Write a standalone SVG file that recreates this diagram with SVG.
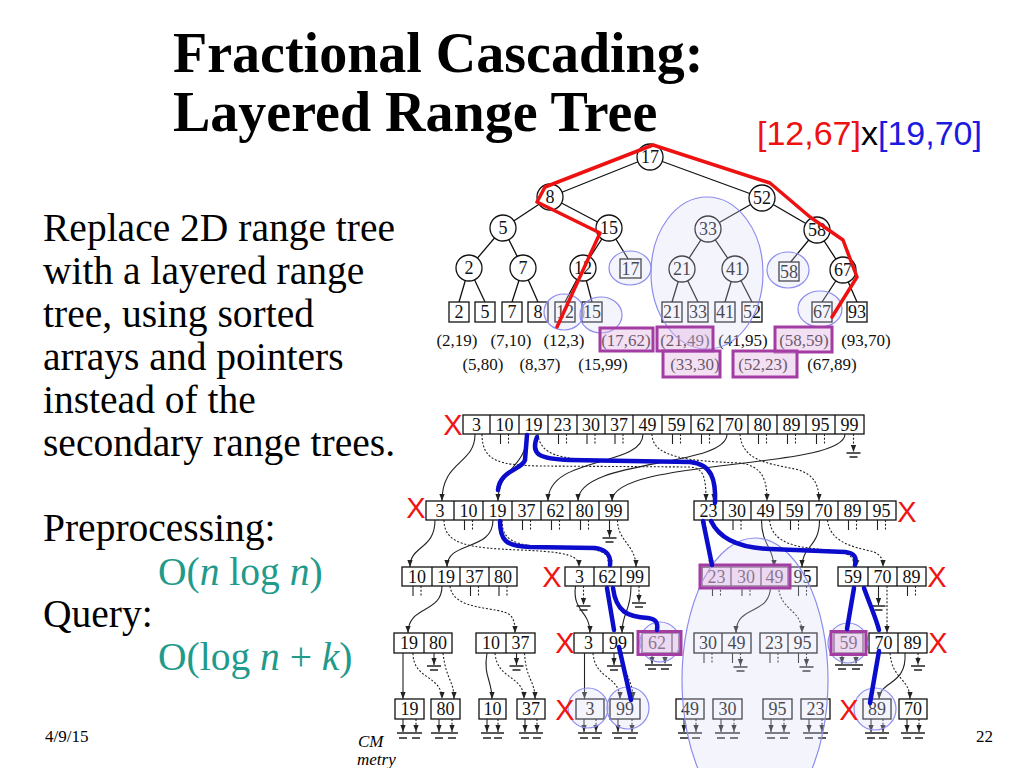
<svg xmlns="http://www.w3.org/2000/svg" width="1024" height="768" viewBox="0 0 1024 768">
<defs>
<style>
.ttl{font-family:"Liberation Serif","Times New Roman",serif;font-weight:bold;font-size:56px;fill:#000}
.bd{font-family:"Liberation Serif","Times New Roman",serif;font-size:39.5px;fill:#000}
.tl{fill:#1f9a8b}
.ft{font-family:"Liberation Serif","Times New Roman",serif;font-size:17px;fill:#000}
.c{fill:#fff;stroke:#111;stroke-width:1.3}
.t{font-family:"Liberation Serif","Times New Roman",serif;font-size:17px;fill:#111;text-anchor:middle}
.n{font-size:18px}
.e{stroke:#111;stroke-width:1.3;fill:none}
.s{stroke:#222;stroke-width:1.1;fill:none;marker-end:url(#ah)}
.d{stroke:#222;stroke-width:1.1;fill:none;stroke-dasharray:2 1.8;marker-end:url(#ah)}
.k{stroke:#222;stroke-width:1.1;fill:none}
.kd{stroke:#222;stroke-width:1.1;fill:none;stroke-dasharray:2 1.8}
.gr{stroke:#222;stroke-width:1.6;fill:none}
.b{stroke:#0c0ccc;stroke-width:4.5;fill:none;stroke-linecap:round;stroke-linejoin:round}
.r{stroke:#ee1111;stroke-width:3.5;fill:none;stroke-linejoin:round;stroke-linecap:round}
.x{font-family:"Liberation Sans",Arial,sans-serif;font-size:29px;fill:#f01414;text-anchor:middle}
.el{fill:#d6d6f8;fill-opacity:.28;stroke:#8c8cee;stroke-width:1.2}
.pb{fill:#e2b4e2;fill-opacity:.42;stroke:#a33ca3;stroke-width:3}
</style>
<marker id="ah" viewBox="0 0 8 6" refX="8" refY="3" markerWidth="7" markerHeight="6" markerUnits="userSpaceOnUse" orient="auto"><path d="M0,0L8,3L0,6z" fill="#222"/></marker>
</defs>
<rect width="1024" height="768" fill="#fff"/>

<g id="title">
<text class="ttl" x="173" y="72">Fractional Cascading:</text>
<text class="ttl" x="173" y="131">Layered Range Tree</text>
</g>
<g id="body">
<text class="bd" x="43" y="241">Replace 2D range tree</text>
<text class="bd" x="43" y="284">with a layered range</text>
<text class="bd" x="43" y="327">tree, using sorted</text>
<text class="bd" x="43" y="370">arrays and pointers</text>
<text class="bd" x="43" y="413">instead of the</text>
<text class="bd" x="43" y="456">secondary range trees.</text>
<text class="bd" x="43" y="541">Preprocessing:</text>
<text class="bd tl" x="158" y="585">O(<tspan font-style="italic">n</tspan> log <tspan font-style="italic">n</tspan>)</text>
<text class="bd" x="43" y="627">Query:</text>
<text class="bd tl" x="158" y="670">O(log <tspan font-style="italic">n</tspan> + <tspan font-style="italic">k</tspan>)</text>
</g>
<text id="range" x="757" y="145" font-family="Liberation Sans, Arial, sans-serif" font-size="34"><tspan fill="#ee1111">[12,67]</tspan><tspan fill="#000">x</tspan><tspan fill="#1a1ae0">[19,70]</tspan></text>
<g id="footer">
<text class="ft" x="45" y="742">4/9/15</text>
<text class="ft" x="993" y="742" text-anchor="end">22</text>
<text class="ft" x="358" y="747" font-style="italic">CM</text>
<text class="ft" x="357" y="765" font-style="italic" font-size="14">metry</text>
</g>

<!-- top tree -->
<g id="tree-edges">
<path class="e" d="M650,157L550,197M650,157L762,198M550,197L503,228M550,197L609,228M503,228L469,268M503,228L523,268M609,228L583,268M609,228L630,262M762,198L708,229M762,198L817,230M708,229L682,269M708,229L735,269M817,230L789,264M817,230L843,270M469,268L459,302M469,268L485,302M523,268L512,302M523,268L538,302M583,268L565,302M583,268L592,302M682,269L672,302M682,269L698,302M735,269L725,302M735,269L752,302M843,270L822,302M843,270L857,302"/>
</g>
<g id="n17"><circle class="c" cx="650" cy="157" r="13"/><text class="t n" x="650" y="163">17</text></g>
<g id="n8"><circle class="c" cx="550" cy="197" r="13"/><text class="t n" x="550" y="203">8</text></g>
<g id="n52"><circle class="c" cx="762" cy="198" r="13"/><text class="t n" x="762" y="204">52</text></g>
<g id="n5"><circle class="c" cx="503" cy="228" r="13"/><text class="t n" x="503" y="234">5</text></g>
<g id="n15"><circle class="c" cx="609" cy="228" r="13"/><text class="t n" x="609" y="234">15</text></g>
<g id="n33"><circle class="c" cx="708" cy="229" r="13"/><text class="t n" x="708" y="235">33</text></g>
<g id="n58"><circle class="c" cx="817" cy="230" r="13"/><text class="t n" x="817" y="236">58</text></g>
<g id="n2"><circle class="c" cx="469" cy="268" r="13"/><text class="t n" x="469" y="274">2</text></g>
<g id="n7"><circle class="c" cx="523" cy="268" r="13"/><text class="t n" x="523" y="274">7</text></g>
<g id="n12"><circle class="c" cx="583" cy="268" r="13"/><text class="t n" x="583" y="274">12</text></g>
<g id="n21"><circle class="c" cx="682" cy="269" r="13"/><text class="t n" x="682" y="275">21</text></g>
<g id="n41"><circle class="c" cx="735" cy="269" r="13"/><text class="t n" x="735" y="275">41</text></g>
<g id="n67"><circle class="c" cx="843" cy="270" r="13"/><text class="t n" x="843" y="276">67</text></g>
<g id="sq17"><rect class="c" x="620" y="259" width="21" height="19"/><text class="t n" x="630.5" y="274.5">17</text></g>
<g id="sq58"><rect class="c" x="779" y="262" width="20" height="19"/><text class="t n" x="789" y="277.5">58</text></g>
<g id="leaves">
<rect class="c" x="449" y="302" width="20" height="20"/><text class="t n" x="459" y="318">2</text>
<rect class="c" x="475" y="302" width="20" height="20"/><text class="t n" x="485" y="318">5</text>
<rect class="c" x="502" y="302" width="20" height="20"/><text class="t n" x="512" y="318">7</text>
<rect class="c" x="528" y="302" width="20" height="20"/><text class="t n" x="538" y="318">8</text>
<rect class="c" x="555" y="302" width="20" height="20"/><text class="t n" x="565" y="318">12</text>
<rect class="c" x="582" y="302" width="20" height="20"/><text class="t n" x="592" y="318">15</text>
<rect class="c" x="662" y="302" width="20" height="20"/><text class="t n" x="672" y="318">21</text>
<rect class="c" x="688" y="302" width="20" height="20"/><text class="t n" x="698" y="318">33</text>
<rect class="c" x="715" y="302" width="20" height="20"/><text class="t n" x="725" y="318">41</text>
<rect class="c" x="742" y="302" width="20" height="20"/><text class="t n" x="752" y="318">52</text>
<rect class="c" x="812" y="302" width="20" height="20"/><text class="t n" x="822" y="318">67</text>
<rect class="c" x="847" y="302" width="20" height="20"/><text class="t n" x="857" y="318">93</text>
</g>
<g id="points">
<text class="t" x="457" y="346">(2,19)</text>
<text class="t" x="511" y="346">(7,10)</text>
<text class="t" x="564" y="346">(12,3)</text>
<text class="t" x="626" y="346">(17,62)</text>
<text class="t" x="685" y="346">(21,49)</text>
<text class="t" x="743" y="346">(41,95)</text>
<text class="t" x="804" y="346">(58,59)</text>
<text class="t" x="866" y="346">(93,70)</text>
<text class="t" x="483" y="370">(5,80)</text>
<text class="t" x="540" y="370">(8,37)</text>
<text class="t" x="603" y="370">(15,99)</text>
<text class="t" x="695" y="370">(33,30)</text>
<text class="t" x="763" y="370">(52,23)</text>
<text class="t" x="832" y="370">(67,89)</text>
</g>
<g id="top-highlights">
<ellipse class="el" cx="707" cy="273" rx="56" ry="76"/>
<ellipse class="el" cx="630" cy="268" rx="21" ry="17"/>
<ellipse class="el" cx="788" cy="270" rx="21" ry="18"/>
<ellipse class="el" cx="820" cy="309" rx="22" ry="18"/>
<ellipse class="el" cx="564" cy="312" rx="20" ry="18"/>
<ellipse class="el" cx="601" cy="315" rx="21" ry="18"/>
<rect class="pb" x="600" y="328" width="53" height="23"/>
<rect class="pb" x="657" y="327" width="56" height="24"/>
<rect class="pb" x="775" y="327" width="57" height="25"/>
<rect class="pb" x="663" y="351" width="57" height="26"/>
<rect class="pb" x="733" y="351" width="64" height="26"/>
<path class="r" d="M832,317L857,277L843,240L810,217L770,183L653,145L545,187L537,202L600,233L557,327"/>
</g>

<!-- arrays -->
<g id="a-root">
<rect class="c" x="463" y="415" width="401" height="19"/>
<path class="e" d="M490,415v19M519,415v19M548,415v19M577,415v19M605,415v19M633,415v19M662,415v19M691,415v19M720,415v19M748,415v19M777,415v19M806,415v19M835,415v19"/>
<text class="t n" x="476.5" y="430.5">3</text><text class="t n" x="504.5" y="430.5">10</text><text class="t n" x="533.5" y="430.5">19</text><text class="t n" x="562.5" y="430.5">23</text><text class="t n" x="591" y="430.5">30</text><text class="t n" x="619" y="430.5">37</text><text class="t n" x="647.5" y="430.5">49</text><text class="t n" x="676.5" y="430.5">59</text><text class="t n" x="705.5" y="430.5">62</text><text class="t n" x="734" y="430.5">70</text><text class="t n" x="762.5" y="430.5">80</text><text class="t n" x="791.5" y="430.5">89</text><text class="t n" x="820.5" y="430.5">95</text><text class="t n" x="849.5" y="430.5">99</text>
</g>
<g id="a-8">
<rect class="c" x="426" y="501" width="202" height="19"/>
<path class="e" d="M454,501v19M483,501v19M512,501v19M541,501v19M570,501v19M599,501v19"/>
<text class="t n" x="440" y="516.5">3</text><text class="t n" x="468.5" y="516.5">10</text><text class="t n" x="497.5" y="516.5">19</text><text class="t n" x="526.5" y="516.5">37</text><text class="t n" x="555.5" y="516.5">62</text><text class="t n" x="584.5" y="516.5">80</text><text class="t n" x="613.5" y="516.5">99</text>
</g>
<g id="a-52">
<rect class="c" x="694" y="501" width="202" height="19"/>
<path class="e" d="M723,501v19M751,501v19M780,501v19M809,501v19M838,501v19M867,501v19"/>
<text class="t n" x="708.5" y="516.5">23</text><text class="t n" x="737" y="516.5">30</text><text class="t n" x="765.5" y="516.5">49</text><text class="t n" x="794.5" y="516.5">59</text><text class="t n" x="823.5" y="516.5">70</text><text class="t n" x="852.5" y="516.5">89</text><text class="t n" x="881.5" y="516.5">95</text>
</g>
<g id="a-5">
<rect class="c" x="402" y="567" width="115" height="19"/>
<path class="e" d="M432,567v19M460,567v19M489,567v19"/>
<text class="t n" x="417" y="582.5">10</text><text class="t n" x="446" y="582.5">19</text><text class="t n" x="474.5" y="582.5">37</text><text class="t n" x="503" y="582.5">80</text>
</g>
<g id="a-15">
<rect class="c" x="565" y="567" width="84" height="19"/>
<path class="e" d="M594,567v19M621,567v19"/>
<text class="t n" x="579.5" y="582.5">3</text><text class="t n" x="607.5" y="582.5">62</text><text class="t n" x="635" y="582.5">99</text>
</g>
<g id="a-33">
<rect class="c" x="702" y="567" width="115" height="19"/>
<path class="e" d="M731,567v19M761,567v19M788,567v19"/>
<text class="t n" x="716.5" y="582.5">23</text><text class="t n" x="746" y="582.5">30</text><text class="t n" x="774.5" y="582.5">49</text><text class="t n" x="802.5" y="582.5">95</text>
</g>
<g id="a-58">
<rect class="c" x="838" y="567" width="88" height="19"/>
<path class="e" d="M868,567v19M897,567v19"/>
<text class="t n" x="853" y="582.5">59</text><text class="t n" x="882.5" y="582.5">70</text><text class="t n" x="911.5" y="582.5">89</text>
</g>
<g id="a-2"><rect class="c" x="394" y="633" width="58" height="20"/><path class="e" d="M424,633v20"/><text class="t n" x="409" y="649">19</text><text class="t n" x="438" y="649">80</text></g>
<g id="a-7"><rect class="c" x="476" y="633" width="59" height="20"/><path class="e" d="M506,633v20"/><text class="t n" x="491" y="649">10</text><text class="t n" x="520.5" y="649">37</text></g>
<g id="a-12"><rect class="c" x="574" y="633" width="59" height="20"/><path class="e" d="M603,633v20"/><text class="t n" x="588.5" y="649">3</text><text class="t n" x="618" y="649">99</text></g>
<g id="a-17"><rect class="c" x="642" y="633" width="37" height="20"/><path class="e" d="M672,633v20"/><text class="t n" x="657" y="649">62</text></g>
<g id="a-21"><rect class="c" x="694" y="633" width="57" height="20"/><path class="e" d="M722,633v20"/><text class="t n" x="708" y="649">30</text><text class="t n" x="736.5" y="649">49</text></g>
<g id="a-41"><rect class="c" x="760" y="633" width="57" height="20"/><path class="e" d="M788,633v20"/><text class="t n" x="774" y="649">23</text><text class="t n" x="802.5" y="649">95</text></g>
<g id="a-58l"><rect class="c" x="834" y="633" width="29" height="20"/><text class="t n" x="848.5" y="649">59</text></g>
<g id="a-67"><rect class="c" x="869" y="633" width="58" height="20"/><path class="e" d="M898,633v20"/><text class="t n" x="883.5" y="649">70</text><text class="t n" x="912.5" y="649">89</text></g>
<g id="leaf-arrays">
<rect class="c" x="395" y="699" width="29" height="20"/><text class="t n" x="409.5" y="715">19</text>
<rect class="c" x="431" y="699" width="29" height="20"/><text class="t n" x="445.5" y="715">80</text>
<rect class="c" x="479" y="699" width="27" height="20"/><text class="t n" x="492.5" y="715">10</text>
<rect class="c" x="517" y="699" width="28" height="20"/><text class="t n" x="531" y="715">37</text>
<rect class="c" x="576" y="699" width="28" height="20"/><text class="t n" x="590" y="715">3</text>
<rect class="c" x="610" y="699" width="30" height="20"/><text class="t n" x="625" y="715">99</text>
<rect class="c" x="676" y="699" width="28" height="20"/><text class="t n" x="690" y="715">49</text>
<rect class="c" x="713" y="699" width="29" height="20"/><text class="t n" x="727.5" y="715">30</text>
<rect class="c" x="763" y="699" width="29" height="20"/><text class="t n" x="777.5" y="715">95</text>
<rect class="c" x="801" y="699" width="29" height="20"/><text class="t n" x="815.5" y="715">23</text>
<rect class="c" x="863" y="699" width="28" height="20"/><text class="t n" x="877" y="715">89</text>
<rect class="c" x="899" y="699" width="28" height="20"/><text class="t n" x="913" y="715">70</text>
</g>

<g id="connectors">
<path class="s" d="M475,434C475,465 442,460 442,501"/>
<path class="d" d="M482,434C482,462 500,465 540,466L690,467C704,468 706,478 706,501"/>
<path class="s" d="M527,434C527,468 498,468 498,501"/>
<path class="d" d="M538,434C540,455 560,459 600,460L692,462C710,464 714,478 714,501"/>
<path class="s" d="M643,434C643,468 548,455 548,501"/>
<path class="d" d="M652,434C652,458 690,461 740,463C764,466 767,482 767,501"/>
<path class="s" d="M727,434C727,468 578,458 578,501"/>
<path class="d" d="M740,434C742,460 765,463 795,469C816,474 819,487 819,501"/>
<path class="s" d="M845,434C845,470 612,458 612,501"/>
<line class="d" x1="853.5" y1="434" x2="853.5" y2="452"/>
<path class="k" d="M500.5,434v10M558.5,434v10M587,434v10M615,434v10M672.5,434v10M701.5,434v10M758.5,434v10M787.5,434v10M816.5,434v10"/>
<path class="kd" d="M508.5,434v10M566.5,434v10M595,434v10M623,434v10M680.5,434v10M709.5,434v10M766.5,434v10M795.5,434v10M824.5,434v10"/>
<path class="s" d="M435,520C435,550 410,545 410,567"/>
<path class="d" d="M444,520C444,545 470,548 520,550C570,552 579,556 579,567"/>
<path class="s" d="M493,520C493,552 447,540 447,567"/>
<path class="d" d="M502,520C502,546 520,547 590,549C607,551 610,558 610,567"/>
<line class="s" x1="609.5" y1="520" x2="609.5" y2="537"/>
<path class="d" d="M617.5,520C617.5,541 636,545 636,567"/>
<path class="k" d="M464.5,520v10M522.5,520v10M551.5,520v10M580.5,520v10M733,520v10M790.5,520v10M848.5,520v10M877.5,520v10"/>
<path class="kd" d="M472.5,520v10M530.5,520v10M559.5,520v10M588.5,520v10M741,520v10M798.5,520v10M856.5,520v10M885.5,520v10"/>
<path class="s" d="M704.5,520L712,567"/>
<path class="d" d="M712.5,520C720,540 740,548 770,549L845,552C855,553 857,558 856,567"/>
<path class="s" d="M761.5,520C761.5,545 774,548 774,567"/>
<path class="d" d="M769.5,520C772,545 800,548 830,550C850,552 855,558 855,567"/>
<path class="s" d="M819.5,520C819.5,548 802,545 802,567"/>
<path class="d" d="M827.5,520C830,545 860,548 874,552C882,556 883,560 883,567"/>
<path class="s" d="M442,586C442,614 408,605 408,633"/>
<path class="d" d="M450,586C453,612 500,606 510,615C515,620 515,626 515,633"/>
<path class="s" d="M575.5,586C572,612 590,610 590,633"/>
<line class="d" x1="583.5" y1="586" x2="583.5" y2="605"/>
<path class="s" d="M631,586C631,612 622,612 622,633"/>
<line class="d" x1="639" y1="586" x2="639" y2="602"/>
<path class="s" d="M770.5,586C770.5,616 736,604 736,633"/>
<path class="d" d="M778.5,586C780,612 802,608 802,633"/>
<line class="s" x1="878.5" y1="586" x2="878.5" y2="605"/>
<line class="d" x1="887" y1="586" x2="887" y2="633"/>
<path class="k" d="M413,586v10M470.5,586v10M499,586v10M712.5,586v10M742,586v10M798.5,586v10M907.5,586v10"/>
<path class="kd" d="M421,586v10M478.5,586v10M507,586v10M720.5,586v10M750,586v10M806.5,586v10M915.5,586v10"/>
<line class="s" x1="403" y1="653" x2="403" y2="699"/>
<path class="d" d="M413,653C413,680 442,675 442,699"/>
<line class="s" x1="434" y1="653" x2="434" y2="665"/>
<path class="d" d="M443,653C446,680 454,680 454,699"/>
<path class="s" d="M487,653C483,676 492,680 492,699"/>
<path class="d" d="M495,653C497,680 524,675 524,699"/>
<line class="s" x1="516.5" y1="653" x2="516.5" y2="665"/>
<path class="d" d="M524.5,653C526,680 535,680 535,699"/>
<line class="s" x1="584.5" y1="653" x2="584.5" y2="699"/>
<path class="d" d="M593,653C595,680 620,675 620,699"/>
<line class="s" x1="614" y1="653" x2="614" y2="665"/>
<path class="d" d="M622,653C624,676 633,680 633,699"/>
<line class="s" x1="652" y1="653" x2="652" y2="664"/>
<line class="d" x1="665" y1="653" x2="665" y2="664"/>
<path class="k" d="M704,653v10M732.5,653v10M770,653v10M798.5,653v10"/>
<path class="kd" d="M712,653v10M778,653v10"/>
<line class="d" x1="740.5" y1="653" x2="740.5" y2="666"/>
<line class="d" x1="806.5" y1="653" x2="806.5" y2="666"/>
<line class="s" x1="842" y1="653" x2="842" y2="664"/>
<line class="d" x1="856" y1="653" x2="856" y2="664"/>
<path class="d" d="M890,653C892,680 910,678 910,699"/>
<path class="s" d="M905,653C907,686 880,680 879,699"/>
<line class="d" x1="918" y1="653" x2="918" y2="665"/>
<line class="s" x1="403" y1="719" x2="403" y2="732"/><line class="d" x1="416" y1="719" x2="416" y2="732"/>
<line class="s" x1="439" y1="719" x2="439" y2="732"/><line class="d" x1="452" y1="719" x2="452" y2="732"/>
<line class="s" x1="487" y1="719" x2="487" y2="732"/><line class="d" x1="498" y1="719" x2="498" y2="732"/>
<line class="s" x1="525" y1="719" x2="525" y2="732"/><line class="d" x1="537" y1="719" x2="537" y2="732"/>
<line class="s" x1="584" y1="719" x2="584" y2="732"/><line class="d" x1="596" y1="719" x2="596" y2="732"/>
<line class="s" x1="618" y1="719" x2="618" y2="732"/><line class="d" x1="632" y1="719" x2="632" y2="732"/>
<line class="s" x1="684" y1="719" x2="684" y2="732"/><line class="d" x1="696" y1="719" x2="696" y2="732"/>
<line class="s" x1="721" y1="719" x2="721" y2="732"/><line class="d" x1="734" y1="719" x2="734" y2="732"/>
<line class="s" x1="771" y1="719" x2="771" y2="732"/><line class="d" x1="784" y1="719" x2="784" y2="732"/>
<line class="s" x1="809" y1="719" x2="809" y2="732"/><line class="d" x1="822" y1="719" x2="822" y2="732"/>
<line class="s" x1="871" y1="719" x2="871" y2="732"/><line class="d" x1="883" y1="719" x2="883" y2="732"/>
<line class="s" x1="907" y1="719" x2="907" y2="732"/><line class="d" x1="919" y1="719" x2="919" y2="732"/>
<path class="gr" d="M846.5,453H860.5M849.5,457H857.5M602.5,538H616.5M605.5,542H613.5M576.5,606H590.5M579.5,610H587.5M632,603H646M635,607H643M871.5,606H885.5M874.5,610H882.5M427,666H441M430,670H438M509.5,666H523.5M512.5,670H520.5M607,666H621M610,670H618M733.5,667H747.5M736.5,671H744.5M799.5,667H813.5M802.5,671H810.5M911,666H925M914,670H922M645,665H672M648,669H656M661,669H669M835,665H863M838,669H846M852,669H860"/>
<path class="gr" d="M397,733H422M431,733H458M481,733H504M519,733H543M578,733H602M612,733H638M678,733H702M715,733H740M765,733H790M803,733H828M865,733H889M901,733H925"/>
<path class="gr" stroke-width="1.2" d="M399,738h8M412,738h8M435,738h8M448,738h8M483,738h8M494,738h8M521,738h8M533,738h8M580,738h8M592,738h8M614,738h8M628,738h8M680,738h8M692,738h8M717,738h8M730,738h8M767,738h8M780,738h8M805,738h8M818,738h8M867,738h8M879,738h8M903,738h8M915,738h8"/>
</g>

<g id="bottom-highlights">
<ellipse class="el" cx="755" cy="680" rx="73" ry="142"/>
<circle class="el" cx="660" cy="642" r="20"/>
<circle class="el" cx="848" cy="643" r="20"/>
<circle class="el" cx="588" cy="708" r="20"/>
<circle class="el" cx="628" cy="708" r="21"/>
<circle class="el" cx="875" cy="709" r="21"/>
<rect class="pb" x="700" y="565" width="90" height="23"/>
<rect class="pb" x="638" y="631.5" width="43" height="23"/>
<rect class="pb" x="831" y="631.5" width="35" height="23"/>
</g>

<g id="query-path">
<path class="b" d="M527,435L525,460C522,470 500,470 498,490"/>
<path class="b" d="M537,437C530,455 540,459 570,460L690,462C712,464 716,480 715,503"/>
<path class="b" d="M703,521L712,565"/>
<path class="b" d="M711,521C720,540 740,548 770,549L845,552C855,553 857,558 855,565"/>
<path class="b" d="M500,521C500,540 505,546 530,547L595,548C608,550 611,556 610,565"/>
<path class="b" d="M607,588L614,630"/>
<path class="b" d="M613,588C616,612 628,617 648,618C657,619 658,624 657,630"/>
<path class="b" d="M619,647L631,700"/>
<path class="b" d="M854,588L847,629"/>
<path class="b" d="M864,588C870,605 876,618 879,630"/>
<path class="b" d="M879,651L870,703"/>
</g>

<g id="x-marks">
<text class="x" x="453" y="435">X</text>
<text class="x" x="416" y="518">X</text>
<text class="x" x="907" y="522">X</text>
<text class="x" x="552" y="587">X</text>
<text class="x" x="937" y="587">X</text>
<text class="x" x="565" y="653">X</text>
<text class="x" x="938" y="653">X</text>
<text class="x" x="565" y="720">X</text>
<text class="x" x="849" y="720">X</text>
</g>
</svg>
